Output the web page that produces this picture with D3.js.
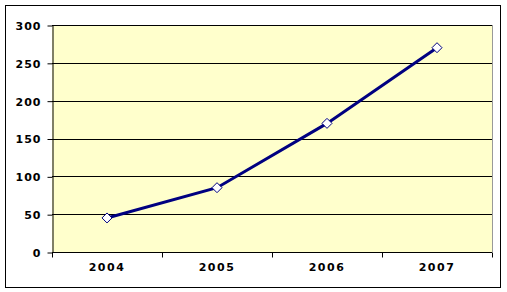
<!DOCTYPE html>
<html>
<head>
<meta charset="utf-8">
<script src="https://cdn.jsdelivr.net/npm/d3@7"></script>
<style>
  body { margin: 0; background: #fff; }
  text { font-family: "DejaVu Sans", Verdana, sans-serif; font-weight: bold; font-size: 11px; fill: #000; }
</style>
</head>
<body>
<div id="chart"></div>
<script>
var years = ["2004", "2005", "2006", "2007"];
var values = [45, 85, 170, 270];
var yTicks = [0, 50, 100, 150, 200, 250, 300];

var width = 507, height = 292;
var plot = { left: 52, top: 25, right: 492, bottom: 252 };

var svg = d3.select("#chart").append("svg")
    .attr("width", width)
    .attr("height", height);

// outer frame
svg.append("rect")
    .attr("x", 5.5).attr("y", 5.5)
    .attr("width", 495).attr("height", 282)
    .attr("fill", "#fff")
    .attr("stroke", "#000");

var x = d3.scaleBand().domain(years).range([plot.left, plot.right]);
var y = d3.scaleLinear().domain([0, 300]).range([plot.bottom, plot.top]);

// plot background
svg.append("rect")
    .attr("x", plot.left).attr("y", plot.top)
    .attr("width", plot.right - plot.left).attr("height", plot.bottom - plot.top)
    .attr("fill", "#ffffcc");

// gridlines
svg.selectAll(".grid").data(yTicks.slice(1)).enter().append("line")
    .attr("x1", plot.left).attr("x2", plot.right)
    .attr("y1", function(d) { return Math.round(y(d)) + 0.5; })
    .attr("y2", function(d) { return Math.round(y(d)) + 0.5; })
    .attr("stroke", "#000");

// y axis
var yAxis = svg.append("g")
    .attr("transform", "translate(" + (plot.left + 0.5) + ",0.5)")
    .call(d3.axisLeft(y).tickValues(yTicks).tickSize(5).tickPadding(6).tickSizeOuter(0));
yAxis.select(".domain").attr("stroke", "#000");
yAxis.selectAll("text").attr("dy", "0.35em").style("letter-spacing", "1px");

// x axis with ticks at category boundaries
var xAxisG = svg.append("g")
    .attr("transform", "translate(0," + (plot.bottom + 0.5) + ")");
xAxisG.append("line")
    .attr("x1", plot.left).attr("x2", plot.right)
    .attr("stroke", "#000");
var bounds = years.map(function(d) { return x(d); }).concat([plot.right]);
xAxisG.selectAll(".xt").data(bounds).enter().append("line")
    .attr("x1", function(d) { return Math.round(d) + 0.5; })
    .attr("x2", function(d) { return Math.round(d) + 0.5; })
    .attr("y1", 0).attr("y2", 5)
    .attr("stroke", "#000");
xAxisG.selectAll(".xl").data(years).enter().append("text")
    .attr("x", function(d) { return x(d) + x.bandwidth() / 2; })
    .attr("y", 18)
    .attr("text-anchor", "middle")
    .style("letter-spacing", "1.5px")
    .text(function(d) { return d; });

// right border of plot area
svg.append("line")
    .attr("x1", plot.right + 0.5).attr("x2", plot.right + 0.5)
    .attr("y1", plot.top).attr("y2", plot.bottom)
    .attr("stroke", "#999");

// line series
var pts = years.map(function(d, i) { return [x(d) + x.bandwidth() / 2, y(values[i])]; });
svg.append("path")
    .attr("d", d3.line()(pts))
    .attr("fill", "none")
    .attr("stroke", "#000080")
    .attr("stroke-width", 3);

svg.selectAll(".mk").data(pts).enter().append("path")
    .attr("transform", function(d) { return "translate(" + d[0] + "," + d[1] + ")"; })
    .attr("d", "M0,-5L5,0L0,5L-5,0Z")
    .attr("fill", "#fff")
    .attr("stroke", "#000080")
    .attr("stroke-width", 1);
</script>
</body>
</html>
